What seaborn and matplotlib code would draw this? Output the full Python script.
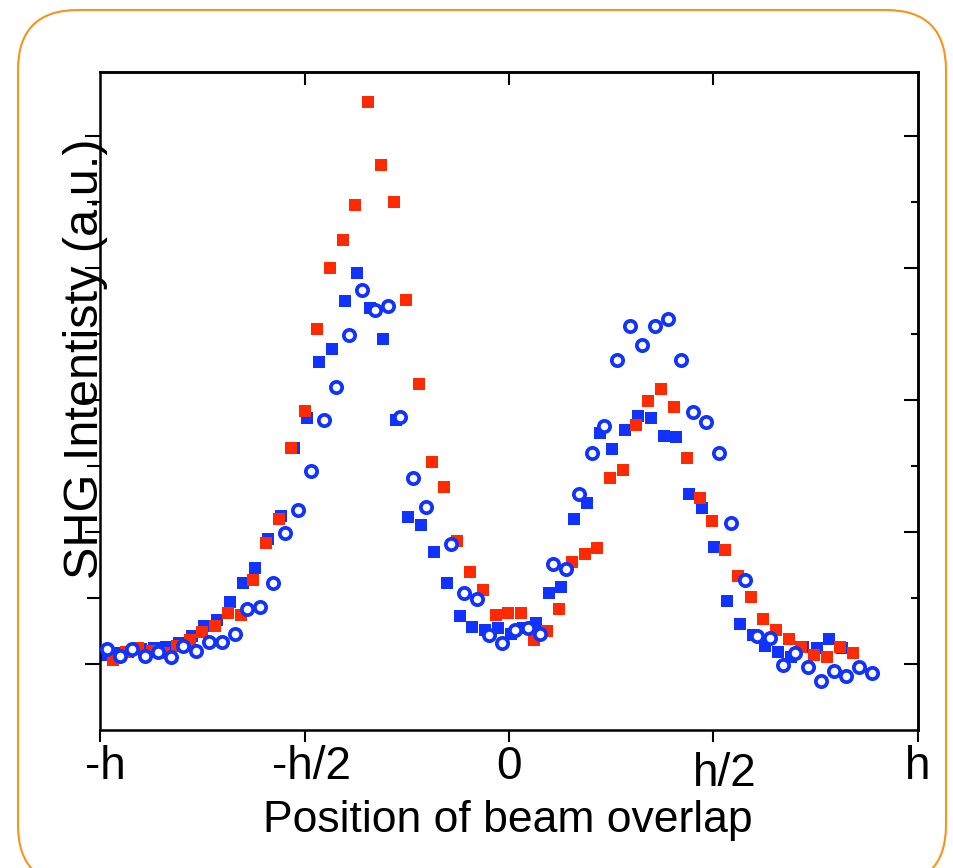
import matplotlib
matplotlib.use("Agg")
import matplotlib.pyplot as plt
from matplotlib.patches import FancyBboxPatch
from matplotlib.transforms import ScaledTranslation
import seaborn as sns
import pandas as pd

# positions in units of h, intensities in a.u. (major tick = 1)
red_x = [-0.968, -0.937, -0.906, -0.874, -0.843, -0.812, -0.781, -0.750, -0.719, -0.687,
         -0.656, -0.625, -0.594, -0.563, -0.532, -0.500, -0.469, -0.438, -0.407, -0.376,
         -0.345, -0.313, -0.282, -0.251, -0.220, -0.189, -0.158, -0.126, -0.095, -0.064,
         -0.033, -0.002, 0.029, 0.060, 0.092, 0.123, 0.154, 0.185, 0.216, 0.248,
         0.279, 0.310, 0.341, 0.372, 0.403, 0.435, 0.466, 0.497, 0.528, 0.559,
         0.591, 0.622, 0.653, 0.684, 0.715, 0.746, 0.778, 0.809, 0.840]
red_y = [0.03, 0.09, 0.12, 0.10, 0.08, 0.14, 0.18, 0.24, 0.29, 0.39,
         0.37, 0.64, 0.92, 1.10, 1.64, 1.92, 2.54, 3.00, 3.21, 3.48,
         4.26, 3.78, 3.50, 2.76, 2.12, 1.53, 1.34, 0.93, 0.70, 0.56,
         0.37, 0.39, 0.39, 0.18, 0.25, 0.42, 0.77, 0.83, 0.88, 1.41,
         1.47, 1.81, 1.99, 2.08, 1.95, 1.56, 1.26, 1.08, 0.86, 0.67,
         0.51, 0.34, 0.26, 0.19, 0.13, 0.07, 0.05, 0.13, 0.08]

blue_x = [-0.994, -0.963, -0.932, -0.900, -0.869, -0.838, -0.807, -0.776, -0.745, -0.713,
          -0.682, -0.651, -0.620, -0.589, -0.558, -0.526, -0.495, -0.464, -0.433, -0.402,
          -0.371, -0.339, -0.308, -0.277, -0.246, -0.215, -0.184, -0.152, -0.121, -0.090,
          -0.059, -0.028, 0.004, 0.035, 0.066, 0.097, 0.128, 0.159, 0.191, 0.222,
          0.253, 0.284, 0.315, 0.346, 0.378, 0.409, 0.440, 0.471, 0.502, 0.533,
          0.565, 0.596, 0.627, 0.658, 0.689, 0.720, 0.752, 0.783, 0.814]
blue_y = [0.07, 0.08, 0.09, 0.11, 0.12, 0.13, 0.16, 0.21, 0.29, 0.33,
          0.47, 0.61, 0.73, 0.95, 1.12, 1.64, 1.86, 2.29, 2.39, 2.75,
          2.96, 2.70, 2.46, 1.85, 1.11, 1.05, 0.85, 0.61, 0.36, 0.28,
          0.26, 0.27, 0.23, 0.27, 0.31, 0.54, 0.58, 1.10, 1.22, 1.75,
          1.63, 1.77, 1.88, 1.86, 1.73, 1.72, 1.29, 1.18, 0.89, 0.48,
          0.30, 0.22, 0.14, 0.09, 0.05, 0.13, 0.12, 0.19, 0.12]

ring_x = [-0.983, -0.952, -0.921, -0.889, -0.858, -0.827, -0.796, -0.765, -0.734, -0.702,
          -0.671, -0.640, -0.609, -0.578, -0.547, -0.515, -0.484, -0.453, -0.422, -0.391,
          -0.360, -0.328, -0.297, -0.266, -0.235, -0.204, -0.141, -0.110, -0.079,
          -0.048, -0.017, 0.015, 0.046, 0.077, 0.108, 0.139, 0.170, 0.202, 0.233,
          0.264, 0.295, 0.326, 0.357, 0.389, 0.420, 0.451, 0.482, 0.513, 0.544,
          0.576, 0.607, 0.638, 0.669, 0.700, 0.731, 0.763, 0.794, 0.825, 0.856, 0.887]
ring_y = [0.11, 0.06, 0.11, 0.06, 0.09, 0.05, 0.14, 0.10, 0.17, 0.17,
          0.23, 0.42, 0.43, 0.61, 0.99, 1.17, 1.46, 1.85, 2.10, 2.49,
          2.83, 2.68, 2.71, 1.87, 1.41, 1.19, 0.91, 0.54, 0.49,
          0.22, 0.16, 0.26, 0.27, 0.23, 0.76, 0.72, 1.29, 1.60, 1.80,
          2.30, 2.56, 2.42, 2.56, 2.61, 2.30, 1.91, 1.83, 1.60, 1.07,
          0.64, 0.21, 0.20, -0.01, 0.08, -0.02, -0.13, -0.05, -0.09, -0.02, -0.07]

x_ticks = [-1, -0.5, 0, 0.5, 1]
x_labels = ["-h", "-h/2", "0", "h/2", "h"]
y_major = [0, 1, 2, 3, 4]
y_minor = [0.5, 1.5, 2.5, 3.5]

RED = "#FF2A00"
BLUE = "#1133FF"
ORANGE = "#F7931E"

sns.set_theme(style="white")
plt.rcParams["font.family"] = ["Liberation Sans", "DejaVu Sans"]
plt.rcParams["text.color"] = "black"
plt.rcParams["axes.labelcolor"] = "black"
plt.rcParams["xtick.color"] = "black"
plt.rcParams["ytick.color"] = "black"

fig = plt.figure(figsize=(9.54, 8.68), dpi=100)
ax = fig.add_axes([100 / 954, 138 / 868, 818 / 954, 658 / 868])

df_blue = pd.DataFrame({"x": blue_x, "y": blue_y})
df_red = pd.DataFrame({"x": red_x, "y": red_y})
df_ring = pd.DataFrame({"x": ring_x, "y": ring_y})

sns.scatterplot(data=df_blue, x="x", y="y", marker="s", s=75, color=BLUE,
                linewidth=0, ax=ax, zorder=2)
sns.scatterplot(data=df_red, x="x", y="y", marker="s", s=75, color=RED,
                linewidth=0, ax=ax, zorder=3)
sns.scatterplot(data=df_ring, x="x", y="y", marker="o", s=66, facecolor="white",
                edgecolor=BLUE, linewidth=2.7, ax=ax, zorder=4)

ax.set_xlim(-1, 1)
ax.set_ylim(-0.5, 4.485)

for sp in ax.spines.values():
    sp.set_color("black")
    sp.set_linewidth(1.8)

# bottom / left: outward ticks
ax.set_xticks(x_ticks)
ax.set_xticklabels(x_labels, fontsize=33, color="black")
ax.tick_params(axis="x", which="major", direction="out", length=8.6, width=1.5,
               color="black", labelcolor="black", pad=2, bottom=True, top=False)
ax.set_yticks(y_major)
ax.set_yticks(y_minor, minor=True)
ax.tick_params(axis="y", which="major", direction="out", length=10.8, width=1.5,
               color="black", left=True, right=False, labelleft=False)
ax.tick_params(axis="y", which="minor", direction="out", length=9.4, width=1.5,
               color="black", left=True, right=False)

# right / top: inward ticks
axr = ax.secondary_yaxis("right")
axr.set_yticks(y_major)
axr.set_yticks(y_minor, minor=True)
axr.tick_params(which="major", direction="in", length=10, width=1.5, color="black",
                labelright=False)
axr.tick_params(which="minor", direction="in", length=5, width=1.5, color="black")
axr.spines["right"].set_linewidth(1.8)
axr.spines["right"].set_color("black")

axt = ax.secondary_xaxis("top")
axt.set_xticks(x_ticks[1:-1])
axt.tick_params(which="major", direction="in", length=9.4, width=1.5, color="black",
                labeltop=False)
axt.spines["top"].set_linewidth(1.8)
axt.spines["top"].set_color("black")

# nudge tick labels like in the original
offsets = [(5, 0), (7, 0), (0, 0), (11, -7), (0, 0)]
for lab, (dx, dy) in zip(ax.get_xticklabels(), offsets):
    lab.set_transform(lab.get_transform() + ScaledTranslation(dx / 100, dy / 100, fig.dpi_scale_trans))

ax.set_xlabel("Position of beam overlap", fontsize=32, color="black")
ax.xaxis.label.set_va("center")
ax.xaxis.set_label_coords(0.499, -0.137)
ax.set_ylabel("SHG Intentisty (a.u.)", fontsize=35, color="black")
ax.yaxis.label.set_va("center")
ax.yaxis.set_label_coords(-0.018, 0.564)

box = FancyBboxPatch((0.18, -0.17), 9.28, 8.75,
                     boxstyle="round,pad=0,rounding_size=0.6",
                     transform=fig.dpi_scale_trans, facecolor="none",
                     edgecolor=ORANGE, linewidth=1.5, clip_on=False)
fig.add_artist(box)

fig.savefig("out.png", dpi=100)
